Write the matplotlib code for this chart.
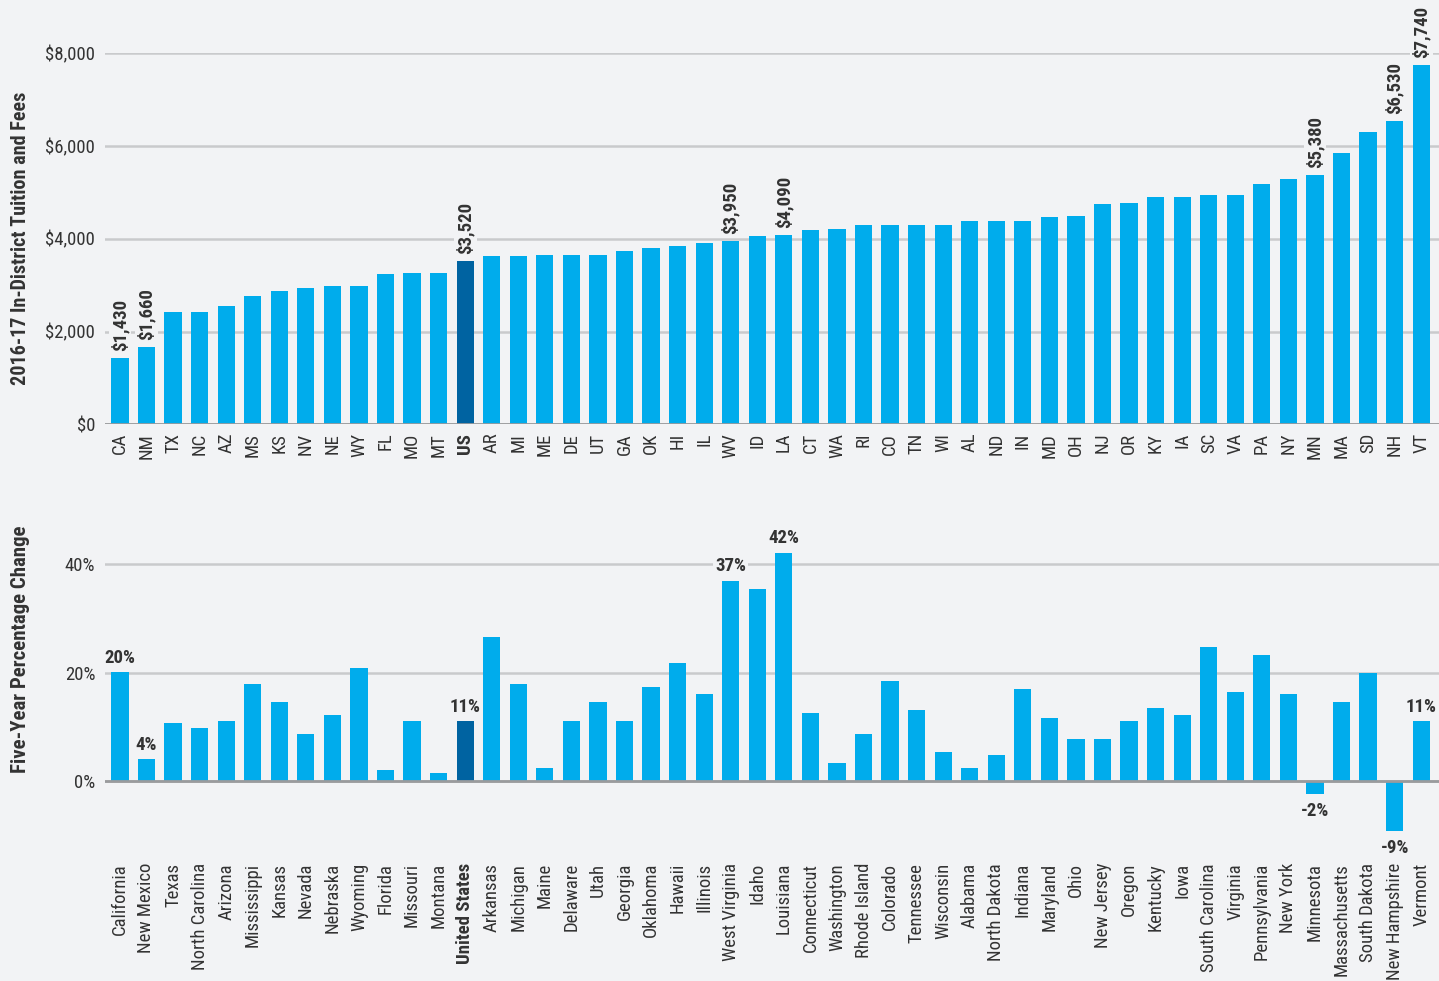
import os
import matplotlib
matplotlib.use("Agg")
import matplotlib.pyplot as plt
from matplotlib import font_manager

abbrevs = ["CA", "NM", "TX", "NC", "AZ", "MS", "KS", "NV", "NE", "WY", "FL", "MO", "MT", "US",
           "AR", "MI", "ME", "DE", "UT", "GA", "OK", "HI", "IL", "WV", "ID", "LA", "CT", "WA",
           "RI", "CO", "TN", "WI", "AL", "ND", "IN", "MD", "OH", "NJ", "OR", "KY", "IA", "SC",
           "VA", "PA", "NY", "MN", "MA", "SD", "NH", "VT"]
names = ["California", "New Mexico", "Texas", "North Carolina", "Arizona", "Mississippi",
         "Kansas", "Nevada", "Nebraska", "Wyoming", "Florida", "Missouri", "Montana",
         "United States", "Arkansas", "Michigan", "Maine", "Delaware", "Utah", "Georgia",
         "Oklahoma", "Hawaii", "Illinois", "West Virginia", "Idaho", "Louisiana", "Connecticut",
         "Washington", "Rhode Island", "Colorado", "Tennessee", "Wisconsin", "Alabama",
         "North Dakota", "Indiana", "Maryland", "Ohio", "New Jersey", "Oregon", "Kentucky",
         "Iowa", "South Carolina", "Virginia", "Pennsylvania", "New York", "Minnesota",
         "Massachusetts", "South Dakota", "New Hampshire", "Vermont"]
tuition = [1430, 1660, 2420, 2420, 2550, 2770, 2880, 2940, 2990, 2990, 3230, 3270, 3270, 3520,
           3620, 3620, 3660, 3660, 3660, 3730, 3800, 3840, 3900, 3950, 4050, 4090, 4180, 4220,
           4290, 4290, 4290, 4290, 4390, 4390, 4390, 4460, 4500, 4740, 4780, 4890, 4890, 4950,
           4950, 5170, 5280, 5380, 5840, 6290, 6530, 7740]
pct_change = [20.1, 4.0, 10.7, 9.8, 11.1, 17.9, 14.6, 8.7, 12.2, 20.9, 2.0, 11.1, 1.5, 11.0,
              26.6, 17.9, 2.4, 11.0, 14.6, 11.0, 17.3, 21.8, 16.1, 37.0, 35.4, 42.1, 12.5, 3.3,
              8.7, 18.5, 13.1, 5.4, 2.4, 4.8, 17.0, 11.6, 7.8, 7.8, 11.1, 13.5, 12.2, 24.7,
              16.4, 23.3, 16.1, -2.4, 14.6, 19.9, -9.2, 11.0]
labelled = ["CA", "NM", "US", "WV", "LA", "MN", "NH", "VT"]

BG = "#f2f3f5"
BLUE = "#00acec"
DARK = "#0063a1"
TXT = "#333333"
GRID = "#c9cacc"


def pick_condensed():
    # look for a narrow / condensed face among installed fonts
    prefs = ["liberationsansnarrow", "robotocondensed", "opensans_condensed", "opensanscondensed",
             "dejavusanscondensed", "notosans-condensed", "notosanscondensed", "narrow", "condensed"]
    files = [(os.path.basename(f.fname).lower().replace(" ", ""), f) for f in font_manager.fontManager.ttflist]
    for p in prefs:
        for b, f in files:
            if p in b and "mono" not in b and "serif" not in b:
                return f
    return None


cond = pick_condensed()
if cond is not None:
    plt.rcParams["font.family"] = [cond.name, "DejaVu Sans"]
    plt.rcParams["font.stretch"] = cond.stretch
    FS = 13.5
else:
    plt.rcParams["font.family"] = ["DejaVu Sans"]
    FS = 11

n = len(tuition)
x = list(range(n))
colors = [DARK if a == "US" else BLUE for a in abbrevs]

fig = plt.figure(figsize=(14.39, 9.81), dpi=100, facecolor=BG)
ax1 = fig.add_axes([0.073, 0.5673, 0.927, 0.3787], facecolor=BG)
ax2 = fig.add_axes([0.073, 0.1486, 0.927, 0.3038], facecolor=BG)

for ax in (ax1, ax2):
    for s in ax.spines.values():
        s.set_visible(False)
    ax.tick_params(length=0, colors=TXT)
    ax.set_xlim(-0.56, n - 1 + 0.67)
    ax.set_axisbelow(True)
    ax.yaxis.grid(True, color=GRID, linewidth=1.8)

# top: tuition
ax1.bar(x, tuition, width=0.65, color=colors, zorder=2)
ax1.set_ylim(0, 8000)
ax1.set_yticks([0, 2000, 4000, 6000, 8000])
ax1.set_yticklabels([f"${v:,}" for v in [0, 2000, 4000, 6000, 8000]], fontsize=FS)
ax1.axhline(0, color="#9a9b9d", linewidth=2, zorder=3)
ax1.set_xticks(x)
ax1.set_xticklabels(abbrevs, rotation=90, fontsize=FS, va="top")
ax1.tick_params(axis="x", pad=6)
ax1.tick_params(axis="y", pad=7)
ax1.set_ylabel("2016-17 In-District Tuition and Fees", fontsize=FS + 1, fontweight="bold", color=TXT)
ax1.yaxis.set_label_coords(-0.056, 0.5)
for i, a in enumerate(abbrevs):
    if a in labelled:
        ax1.annotate(f"${tuition[i]:,}", (i, tuition[i]), xytext=(0, 5), textcoords="offset points",
                     rotation=90, ha="center", va="bottom", fontsize=FS, fontweight="bold", color=TXT,
                     bbox=dict(facecolor=BG, edgecolor="none", pad=1.5), zorder=4)

# bottom: five-year change
ax2.bar(x, pct_change, width=0.65, color=colors, zorder=2)
ax2.set_ylim(-10, 45)
ax2.set_yticks([0, 20, 40])
ax2.set_yticklabels(["0%", "20%", "40%"], fontsize=FS)
ax2.axhline(0, color="#9a9b9d", linewidth=2, zorder=3)
ax2.set_xticks(x)
ax2.set_xticklabels(names, rotation=90, fontsize=FS, va="top")
ax2.tick_params(axis="x", pad=20)
ax2.tick_params(axis="y", pad=7)
ax2.set_ylabel("Five-Year Percentage Change", fontsize=FS + 1.5, fontweight="bold", color=TXT)
ax2.yaxis.set_label_coords(-0.056, 0.625)
for i, a in enumerate(abbrevs):
    if a in labelled:
        v = pct_change[i]
        off, va = ((0, 4), "bottom") if v >= 0 else ((0, -6), "top")
        ax2.annotate(f"{round(v)}%", (i, v), xytext=off, textcoords="offset points",
                     ha="center", va=va, fontsize=FS, fontweight="bold", color=TXT,
                     bbox=dict(facecolor=BG, edgecolor="none", pad=1.5), zorder=4)

for lab in ax1.get_xticklabels():
    if lab.get_text() == "US":
        lab.set_fontweight("bold")
for lab in ax2.get_xticklabels():
    if lab.get_text() == "United States":
        lab.set_fontweight("bold")

fig.savefig("out.png", dpi=100, facecolor=BG)
